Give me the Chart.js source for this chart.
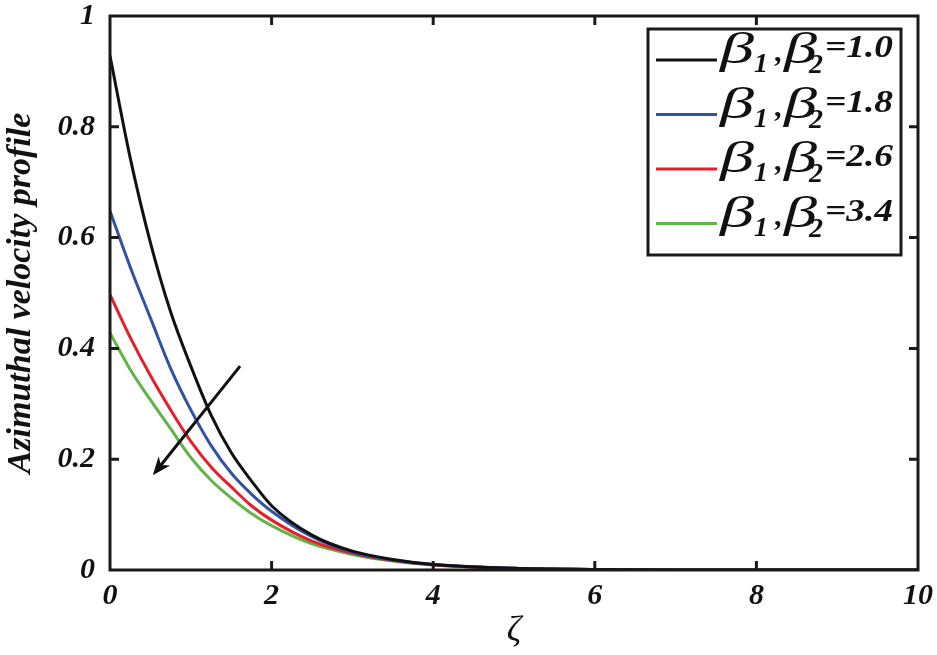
<!DOCTYPE html>
<html>
<head>
<meta charset="utf-8">
<script src="https://cdn.jsdelivr.net/npm/chart.js@4.4.1/dist/chart.umd.min.js"></script>
<style>
  html, body { margin: 0; padding: 0; background: #fff; }
  #wrap { width: 937px; height: 655px; position: relative; }
</style>
</head>
<body>
<div id="wrap"><canvas id="chart"></canvas></div>
<script>
// zeta grid and curves
const zeta = [0, 0.25, 0.5, 0.75, 1, 1.25, 1.5, 1.75, 2, 2.5, 3, 3.5, 4, 5, 6, 7, 8, 9, 10];
const beta10 = [0.928, 0.744, 0.591, 0.466, 0.368, 0.280, 0.212, 0.161, 0.116, 0.063, 0.034, 0.019, 0.010, 0.003, 0.001, 0, 0, 0, 0];
const beta18 = [0.648, 0.547, 0.455, 0.364, 0.289, 0.225, 0.175, 0.137, 0.106, 0.060, 0.032, 0.018, 0.010, 0.003, 0.001, 0, 0, 0, 0];
const beta26 = [0.497, 0.420, 0.351, 0.289, 0.232, 0.186, 0.150, 0.116, 0.090, 0.052, 0.030, 0.017, 0.0095, 0.003, 0.001, 0, 0, 0, 0];
const beta34 = [0.428, 0.362, 0.307, 0.255, 0.203, 0.162, 0.130, 0.102, 0.080, 0.047, 0.028, 0.016, 0.009, 0.003, 0.001, 0, 0, 0, 0];

const seriesValues = ["1.0", "1.8", "2.6", "3.4"];
const seriesColors = ["#111111", "#3152a3", "#e41f2b", "#62b447"];
const xTicks = [0, 2, 4, 6, 8, 10];
const yTicks = [0, 0.2, 0.4, 0.6, 0.8, 1];

// arrow annotation (data units): tail -> head
const arrowFrom = [1.61, 0.368];
const arrowTo = [0.53, 0.171];

const SERIF = "'Liberation Serif', 'Times New Roman', serif";

function toPoints(ys) {
  return zeta.map(function (z, i) { return { x: z, y: ys[i] }; });
}

// frame + inward ticks on all four sides
const framePlugin = {
  id: "frame",
  afterDatasetsDraw(chart) {
    const ctx = chart.ctx;
    const a = chart.chartArea;
    const xs = chart.scales.x, ys = chart.scales.y;
    ctx.save();
    ctx.strokeStyle = "#1a1a1a";
    ctx.lineWidth = 3;
    ctx.lineCap = "butt";
    ctx.beginPath();
    xTicks.slice(1, -1).forEach(function (v) {
      const px = xs.getPixelForValue(v);
      ctx.moveTo(px, a.bottom); ctx.lineTo(px, a.bottom - 9);
      ctx.moveTo(px, a.top); ctx.lineTo(px, a.top + 9);
    });
    yTicks.slice(1, -1).forEach(function (v) {
      const py = ys.getPixelForValue(v);
      ctx.moveTo(a.left, py); ctx.lineTo(a.left + 9, py);
      ctx.moveTo(a.right, py); ctx.lineTo(a.right - 9, py);
    });
    ctx.stroke();
    ctx.strokeRect(a.left, a.top, a.right - a.left, a.bottom - a.top);

    // arrow
    const x0 = xs.getPixelForValue(arrowFrom[0]), y0 = ys.getPixelForValue(arrowFrom[1]);
    const x1 = xs.getPixelForValue(arrowTo[0]), y1 = ys.getPixelForValue(arrowTo[1]);
    const ang = Math.atan2(y1 - y0, x1 - x0);
    ctx.strokeStyle = "#111";
    ctx.fillStyle = "#111";
    ctx.lineWidth = 3;
    ctx.beginPath();
    ctx.moveTo(x0, y0);
    ctx.lineTo(x1 - 8 * Math.cos(ang), y1 - 8 * Math.sin(ang));
    ctx.stroke();
    ctx.beginPath();
    ctx.moveTo(x1, y1);
    ctx.lineTo(x1 - 20 * Math.cos(ang - 0.38), y1 - 20 * Math.sin(ang - 0.38));
    ctx.lineTo(x1 - 13 * Math.cos(ang), y1 - 13 * Math.sin(ang));
    ctx.lineTo(x1 - 20 * Math.cos(ang + 0.38), y1 - 20 * Math.sin(ang + 0.38));
    ctx.closePath();
    ctx.fill();
    ctx.restore();
  },
};

function drawWide(ctx, text, x, y, targetW) {
  const w = ctx.measureText(text).width;
  ctx.save();
  ctx.translate(x, y);
  ctx.scale(targetW / w, 1);
  ctx.fillText(text, 0, 0);
  ctx.restore();
}

// boxed legend with subscripts
const legendPlugin = {
  id: "boxLegend",
  afterDraw(chart) {
    const ctx = chart.ctx;
    const a = chart.chartArea;
    const box = { left: a.right - 270, top: a.top + 13, w: 253, h: 226 };
    ctx.save();
    ctx.fillStyle = "#fff";
    ctx.fillRect(box.left, box.top, box.w, box.h);
    ctx.strokeStyle = "#1a1a1a";
    ctx.lineWidth = 3;
    ctx.strokeRect(box.left, box.top, box.w, box.h);

    chart.data.datasets.forEach(function (ds, i) {
      const cy = box.top + 31 + i * 54.5;
      ctx.strokeStyle = ds.borderColor;
      ctx.lineWidth = 3;
      ctx.beginPath();
      ctx.moveTo(box.left + 8, cy);
      ctx.lineTo(box.left + 69, cy);
      ctx.stroke();

      ctx.fillStyle = "#111";
      ctx.textBaseline = "alphabetic";
      ctx.textAlign = "left";
      const L = box.left;
      ctx.font = "italic 44px " + SERIF;
      drawWide(ctx, "β", L + 72, cy + 3, 34);
      drawWide(ctx, "β", L + 136, cy + 3, 33);
      ctx.font = "italic bold 28px " + SERIF;
      ctx.fillText("1", L + 106, cy + 12);
      ctx.fillText("2", L + 161, cy + 13);
      ctx.font = "bold 30px " + SERIF;
      ctx.fillText(",", L + 126, cy + 1);
      ctx.font = "italic bold 32px " + SERIF;
      drawWide(ctx, "=" + seriesValues[i], L + 177, cy - 3, 68);
    });
    ctx.restore();
  },
};

const datasets = [beta10, beta18, beta26, beta34].map(function (ys, i) {
  return {
    label: "β1, β2=" + seriesValues[i],
    data: toPoints(ys),
    borderColor: seriesColors[i],
    backgroundColor: seriesColors[i],
    borderWidth: 3,
    pointRadius: 0,
    cubicInterpolationMode: "monotone",
    fill: false,
  };
});

new Chart(document.getElementById("chart"), {
  type: "line",
  data: { datasets: datasets },
  options: {
    responsive: true,
    maintainAspectRatio: false,
    animation: false,
    layout: { padding: { top: 16, right: 19, left: 0, bottom: 0 } },
    plugins: {
      legend: { display: false },
      tooltip: { enabled: false },
    },
    scales: {
      x: {
        type: "linear",
        min: 0,
        max: 10,
        afterBuildTicks: function (s) { s.ticks = xTicks.map(function (v) { return { value: v }; }); },
        afterFit: function (s) { s.height = 85; s.paddingLeft = 0; s.paddingRight = 0; },
        grid: { display: false },
        border: { display: false },
        ticks: {
          color: "#111",
          padding: 0,
          callback: function (v) { return String(v); },
          font: { family: SERIF, size: 30, weight: "bold", style: "italic" },
        },
        title: {
          display: true,
          text: "ζ",
          color: "#111",
          padding: { top: 0, bottom: 2 },
          font: { family: SERIF, size: 36, style: "italic" },
        },
      },
      y: {
        min: 0,
        max: 1,
        afterBuildTicks: function (s) { s.ticks = yTicks.map(function (v) { return { value: v }; }); },
        afterFit: function (s) { s.width = 110; s.paddingTop = 0; s.paddingBottom = 0; },
        grid: { display: false },
        border: { display: false },
        ticks: {
          color: "#111",
          padding: 7,
          callback: function (v) { return String(v); },
          font: { family: SERIF, size: 30, weight: "bold", style: "italic" },
        },
        title: {
          display: true,
          text: "Azimuthal velocity profile",
          color: "#111",
          padding: { top: 1, bottom: 0 },
          font: { family: SERIF, size: 34, weight: "bold", style: "italic" },
        },
      },
    },
  },
  plugins: [framePlugin, legendPlugin],
});
</script>
</body>
</html>
